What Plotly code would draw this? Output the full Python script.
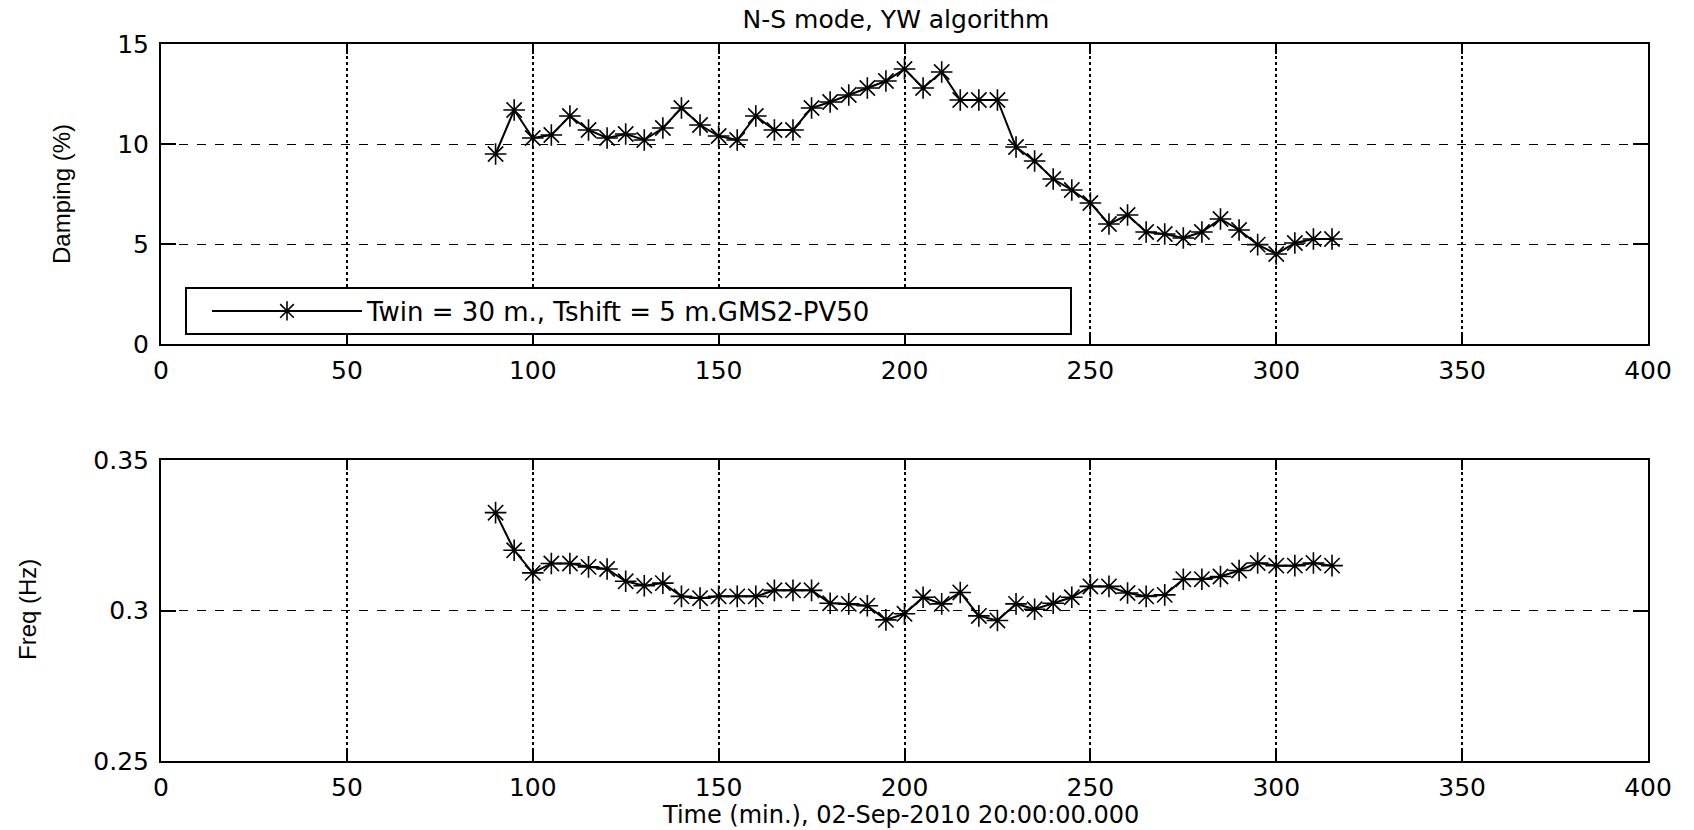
import plotly.graph_objects as go
from plotly.subplots import make_subplots

time_min = [90, 95, 100, 105, 110, 115, 120, 125, 130, 135,
            140, 145, 150, 155, 160, 165, 170, 175, 180, 185,
            190, 195, 200, 205, 210, 215, 220, 225, 230, 235,
            240, 245, 250, 255, 260, 265, 270, 275, 280, 285,
            290, 295, 300, 305, 310, 315]
damping = [9.5, 11.7, 10.3, 10.45, 11.4, 10.7, 10.3, 10.5, 10.2, 10.8,
           11.8, 10.95, 10.4, 10.2, 11.4, 10.7, 10.7, 11.8, 12.1, 12.45,
           12.8, 13.15, 13.75, 12.8, 13.6, 12.2, 12.2, 12.2, 9.85, 9.15,
           8.25, 7.7, 7.05, 6.0, 6.45, 5.6, 5.5, 5.3, 5.6, 6.25,
           5.7, 4.97, 4.5, 5.05, 5.25, 5.25]
freq = [0.3325, 0.320, 0.3125, 0.3156, 0.3156, 0.3145, 0.3138, 0.3097, 0.3082, 0.3091,
        0.3047, 0.3041, 0.3047, 0.3047, 0.3047, 0.3067, 0.3067, 0.3067, 0.3024, 0.3022,
        0.3016, 0.2969, 0.2989, 0.3044, 0.3022, 0.3060, 0.2982, 0.2967, 0.3022, 0.3004,
        0.3024, 0.3044, 0.3080, 0.3080, 0.3058, 0.3047, 0.3052, 0.3104, 0.3104, 0.3113,
        0.3133, 0.3158, 0.3149, 0.3149, 0.3158, 0.3149]

x_ticks = [0, 50, 100, 150, 200, 250, 300, 350, 400]
damp_ticks = [0, 5, 10, 15]
freq_ticks = [0.25, 0.3, 0.35]
freq_tick_labels = ["0.25", "0.3", "0.35"]

series_name = "Twin = 30 m., Tshift = 5 m.GMS2-PV50"
title_text = "N-S mode, YW algorithm"
xlabel = "Time (min.), 02-Sep-2010 20:00:00.000"

W, H = 1694, 830
AX_L, AX_R, AX_T, AX_B = 161, 1648, 44, 761   # plot area in pixels
L, T = AX_L, AX_T
pw, ph = AX_R - AX_L, AX_B - AX_T
R, B = W - L - pw, H - T - ph

def px_x(p):
    return (p - AX_L) / pw

def px_y(p):
    return (AX_B - p) / ph

fig = make_subplots(rows=2, cols=1)
fig.update_layout(
    yaxis=dict(domain=[px_y(344), 1.0]),
    yaxis2=dict(domain=[0.0, px_y(460)]),
)

mk = dict(symbol="asterisk-open", size=18, color="black", line=dict(width=1.6, color="black"))
fig.add_trace(go.Scatter(x=time_min, y=damping, mode="lines+markers", name=series_name,
                         line=dict(color="black", width=2), marker=mk, showlegend=True),
              row=1, col=1)
fig.add_trace(go.Scatter(x=time_min, y=freq, mode="lines+markers", name=series_name,
                         line=dict(color="black", width=2), marker=mk, showlegend=False),
              row=2, col=1)

tickfont = dict(family="DejaVu Sans", size=25, color="black")
xcommon = dict(range=[0, 400], tickvals=x_ticks, ticktext=[str(v) for v in x_ticks],
               showline=True, linecolor="black", linewidth=2, mirror="ticks",
               ticks="inside", ticklen=10, tickwidth=2, tickcolor="black",
               showgrid=True, gridcolor="black", gridwidth=2, griddash="dot",
               zeroline=False, tickfont=tickfont, ticklabelstandoff=3)
ycommon = dict(showline=True, linecolor="black", linewidth=2, mirror="ticks",
               ticks="inside", ticklen=15, tickwidth=2, tickcolor="black",
               showgrid=True, gridcolor="black", gridwidth=1, griddash="dash",
               zeroline=False, tickfont=tickfont, ticklabelstandoff=5)
fig.update_xaxes(**xcommon)
fig.update_yaxes(**ycommon)
fig.update_yaxes(range=[0, 15], tickvals=damp_ticks, ticktext=[str(v) for v in damp_ticks], row=1, col=1)
fig.update_yaxes(range=[0.25, 0.35], tickvals=freq_ticks, ticktext=freq_tick_labels, row=2, col=1)

# legend box
fig.add_shape(type="rect", xref="paper", yref="paper",
              x0=px_x(186), x1=px_x(1071), y0=px_y(334), y1=px_y(288),
              fillcolor="white", line=dict(color="black", width=2), layer="above")

fig.update_layout(
    width=W, height=H,
    margin=dict(l=L, r=R, t=T, b=B),
    paper_bgcolor="white", plot_bgcolor="white",
    showlegend=True,
    legend=dict(x=px_x(207), y=px_y(311), xanchor="left", yanchor="middle",
                bgcolor="rgba(0,0,0,0)", borderwidth=0, itemwidth=150,
                font=dict(family="DejaVu Sans", size=26, color="black")),
    title=dict(text=title_text, x=px_x(896), xanchor="center", xref="paper",
               y=1 - 19 / H, yanchor="middle", yref="container",
               font=dict(family="DejaVu Sans", size=25, color="black")),
    annotations=[
        dict(text="Damping (%)", xref="paper", yref="paper", x=px_x(61), y=px_y(194),
             showarrow=False, textangle=-90, xanchor="center", yanchor="middle",
             font=dict(family="Liberation Sans", size=24, color="black")),
        dict(text="Freq (Hz)", xref="paper", yref="paper", x=px_x(27), y=px_y(610),
             showarrow=False, textangle=-90, xanchor="center", yanchor="middle",
             font=dict(family="Liberation Sans", size=24, color="black")),
        dict(text=xlabel, xref="paper", yref="paper", x=px_x(900), y=px_y(815),
             showarrow=False, xanchor="center", yanchor="middle",
             font=dict(family="DejaVu Sans", size=24, color="black")),
    ],
)

fig.write_html("out.html", config={"displayModeBar": False},
               post_script="document.body.style.margin='0px';")
